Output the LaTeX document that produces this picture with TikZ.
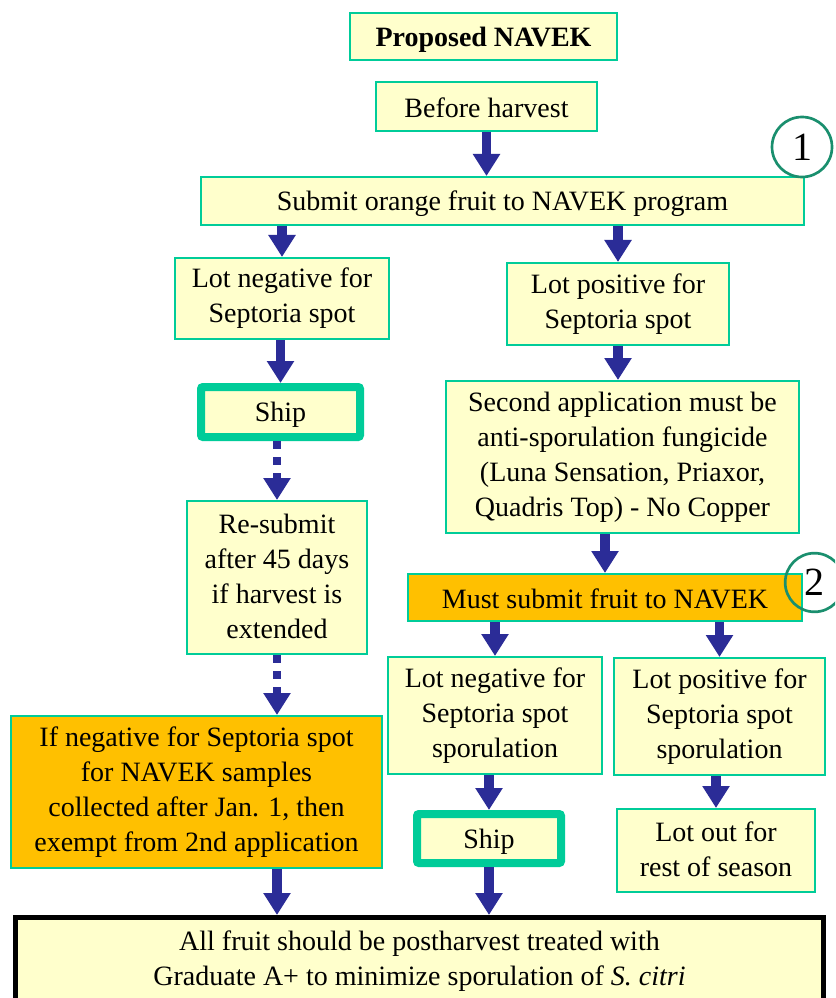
\documentclass[tikz,border=0pt]{standalone}
\usepackage{fontspec}
\setmainfont{Liberation Serif}
\usetikzlibrary{arrows.meta}
\definecolor{boxfill}{HTML}{FFFFCC}
\definecolor{tealline}{HTML}{00CC99}
\definecolor{orng}{HTML}{FFC000}
\definecolor{arrblue}{HTML}{2B2C97}
\definecolor{circgreen}{HTML}{1A8F6E}
\newcommand\mystruttop{\rule{0pt}{0.9em}}
\newcommand\mystrutbot{\rule[-0.12em]{0pt}{0.12em}}
\newcommand\placebox[7]{\node[#2, minimum width={(#5-#3)*0.75pt}, minimum height={(#6-#4)*0.75pt}] (#1) at ({(#3+#5)/2},{(#4+#6)/2}) {#7};}
\begin{document}
\begin{tikzpicture}[x=0.75pt,y=-0.75pt,
 base/.style={align=center, inner sep=0pt, font=\fontsize{21}{26.25}\selectfont, text=black,
   execute at begin node=\mystruttop, execute at end node=\mystrutbot},
 ybox/.style={base, draw=tealline, fill=boxfill, line width=1.5pt},
 obox/.style={base, draw=tealline, fill=orng, line width=1.5pt},
 shipbox/.style={base, draw=tealline, fill=boxfill, line width=6pt, rounded corners=1.5pt},
 finalbox/.style={base, draw=black, fill=boxfill, line width=3.75pt},
 numcirc/.style={circle, draw=circgreen, line width=2pt, inner sep=0pt, font=\fontsize{30}{30}\selectfont},
 arr/.style={draw=arrblue, line width=7pt, -{Triangle[width=19.5pt,length=16.5pt]}},
 darr/.style={arr, line width=6pt, dash pattern=on 6pt off 6pt},
]
\useasboundingbox (0,0) rectangle (835,998);
\clip (0,0) rectangle (835,998);
\fill[white] (0,0) rectangle (835,998);

\placebox{prop}{ybox}{350}{13}{617}{60}{\textbf{Proposed NAVEK}}
\placebox{before}{ybox}{376}{82}{597}{131}{Before harvest}
\placebox{submit}{ybox}{201}{177}{804}{225}{Submit orange fruit to NAVEK program}
\placebox{lneg}{ybox}{175}{258}{389}{339}{Lot negative for\\Septoria spot}
\placebox{lpos}{ybox}{507}{263}{729}{345}{Lot positive for\\Septoria spot}
\placebox{shipa}{shipbox}{201}{387}{360}{437}{Ship}
\placebox{second}{ybox}{446}{381}{799}{533}{Second application must be\\anti-sporulation fungicide\\(Luna Sensation, Priaxor,\\Quadris Top) - No Copper}
\placebox{resub}{ybox}{187}{501}{367}{654}{Re-submit\\after 45 days\\if harvest is\\extended}
\placebox{must}{obox}{408}{574}{802}{621}{Must submit fruit to NAVEK}
\placebox{lnegb}{ybox}{388}{657}{602}{774}{Lot negative for\\Septoria spot\\sporulation}
\placebox{lposb}{ybox}{614}{658}{825}{775}{Lot positive for\\Septoria spot\\sporulation}
\placebox{ifneg}{obox}{11}{716}{382}{868}{If negative for Septoria spot\\for NAVEK samples\\collected after Jan. 1, then\\exempt from 2nd application}
\placebox{shipb}{shipbox}{417}{814}{561}{863}{Ship}
\placebox{lotout}{ybox}{617}{809}{815}{892}{Lot out for\\rest of season}
\placebox{final}{finalbox}{15.5}{917.5}{823.5}{1005}{All fruit should be postharvest treated with\\Graduate A+ to minimize sporulation of \textit{S. citri}}

\node[numcirc, minimum size=45pt] (c1) at (802,147) {1};
\node[numcirc, minimum size=44pt] (c2) at (814.5,582.5) {2};

\draw[arr] (before.south) -- (before.south |- submit.north);
\draw[arr] (lneg.north |- submit.south) -- (lneg.north);
\draw[arr] (lpos.north |- submit.south) -- (lpos.north);
\draw[arr] (shipa.north |- lneg.south) -- (shipa.north);
\draw[arr] (lpos.south) -- (lpos.south |- second.north);
\draw[darr] (resub.north |- shipa.south) -- (resub.north);
\draw[darr] (resub.south) -- (resub.south |- ifneg.north);
\draw[arr] (must.north |- second.south) -- (must.north);
\draw[arr] (lnegb.north |- must.south) -- (lnegb.north);
\draw[arr] (lposb.north |- must.south) -- (lposb.north);
\draw[arr] (lnegb.south -| shipb.north) -- (shipb.north);
\draw[arr] (lposb.south -| lotout.north) -- (lotout.north);
\draw[arr] (resub.south |- ifneg.south) -- (resub.south |- final.north);
\draw[arr] (shipb.south) -- (shipb.south |- final.north);
\end{tikzpicture}
\end{document}
